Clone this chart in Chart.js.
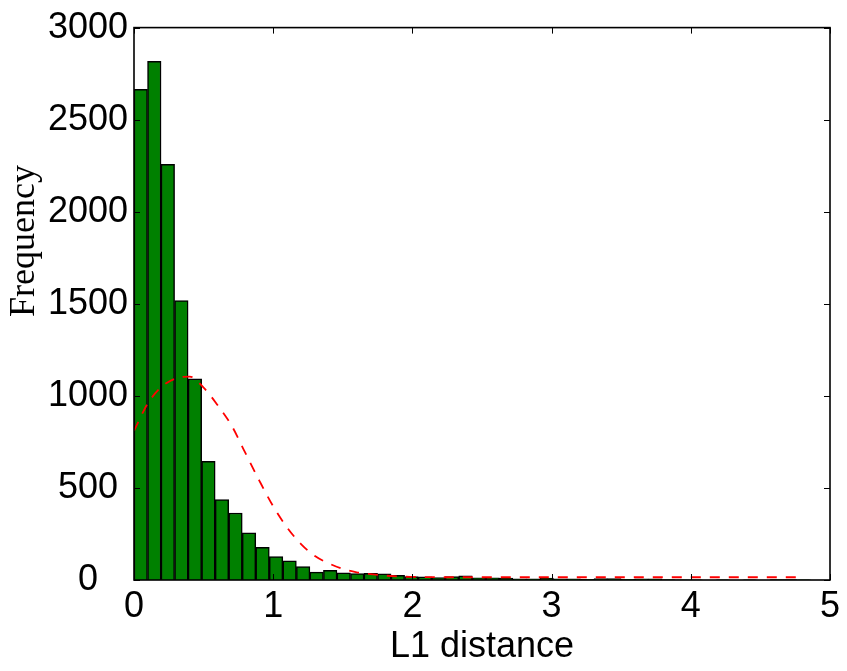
<!DOCTYPE html>
<html>
<head>
<meta charset="utf-8">
<script src="https://cdn.jsdelivr.net/npm/chart.js@4/dist/chart.umd.min.js"></script>
<style>
  html, body { margin: 0; padding: 0; background: #ffffff; }
  #wrap { width: 847px; height: 671px; }
</style>
</head>
<body>
<div id="wrap"><canvas id="c" width="847" height="671"></canvas></div>
<script>
// Histogram of L1 distances (bin width)
const binWidth = 0.0972;
const counts = [2665, 2817, 2258, 1518, 1093, 645, 437, 364, 256, 177,
                127, 104, 73, 43, 53, 39, 35, 36, 34, 25,
                19, 17, 13, 18, 22, 12, 12, 11, 7, 7,
                10, 7, 6, 3, 8, 8, 4, 7, 7, 2,
                1, 1, 0, 1, 0, 1, 0, 2, 2, 1];

// Fitted curve (red dashed)
const curveX = [0.0, 0.1, 0.2, 0.3, 0.4, 0.5, 0.6, 0.7, 0.8, 0.9,
                1.0, 1.1, 1.2, 1.3, 1.4, 1.5, 1.6, 1.7, 1.8, 1.9,
                2.0, 2.2, 2.5, 3.0, 3.5, 4.0, 4.5, 4.8];
const curveY = [810, 960, 1050, 1095, 1105, 1045, 950, 840, 690, 540,
                400, 285, 195, 130, 90, 60, 42, 32, 24, 19,
                17, 15, 15, 15, 15, 15, 15, 15];

const xTicks = [0, 1, 2, 3, 4, 5];
const yTicks = [0, 500, 1000, 1500, 2000, 2500, 3000];
const xTitle = 'L1 distance';
const yTitle = 'Frequency';

const barData = counts.map((v, i) => ({ x: (i + 0.5) * binWidth, y: v }));
const lineData = curveX.map((x, i) => ({ x: x, y: curveY[i] }));

const SANS = '"Liberation Sans", Arial, Helvetica, sans-serif';
const SERIF = '"Liberation Serif", "Times New Roman", serif';

const framePlugin = {
  id: 'frame',
  afterDatasetsDraw(chart) {
    const ctx = chart.ctx;
    const a = chart.chartArea;
    const xs = chart.scales.x, ys = chart.scales.y;
    ctx.save();
    ctx.strokeStyle = '#000000';
    ctx.lineWidth = 1;
    const tl = 6;
    ctx.beginPath();
    yTicks.forEach(v => {
      const p = Math.round(ys.getPixelForValue(v)) + 0.5;
      ctx.moveTo(a.left, p); ctx.lineTo(a.left + tl, p);
      ctx.moveTo(a.right, p); ctx.lineTo(a.right - tl, p);
    });
    xTicks.forEach(v => {
      const p = Math.round(xs.getPixelForValue(v)) + 0.5;
      ctx.moveTo(p, a.bottom); ctx.lineTo(p, a.bottom - tl);
      ctx.moveTo(p, a.top); ctx.lineTo(p, a.top + tl);
    });
    ctx.stroke();
    ctx.lineWidth = 1.6;
    ctx.strokeRect(a.left, a.top, a.right - a.left, a.bottom - a.top);
    ctx.restore();
  },
  afterDraw(chart) {
    const ctx = chart.ctx;
    ctx.save();
    ctx.fillStyle = '#000000';
    ctx.font = '36px ' + SERIF;
    ctx.textAlign = 'center';
    ctx.textBaseline = 'middle';
    ctx.translate(25, 241);
    ctx.rotate(-Math.PI / 2);
    ctx.fillText(yTitle, 0, 0);
    ctx.restore();
  }
};

new Chart(document.getElementById('c'), {
  type: 'bar',
  data: {
    datasets: [
      {
        type: 'line',
        data: lineData,
        borderColor: '#ff0000',
        borderWidth: 1.8,
        borderDash: [10, 9],
        pointRadius: 0,
        fill: false,
        cubicInterpolationMode: 'monotone',
        order: 0
      },
      {
        type: 'bar',
        data: barData,
        backgroundColor: '#008000',
        borderColor: '#000000',
        borderWidth: 1.5,
        barPercentage: 1.0,
        categoryPercentage: 1.0,
        order: 1
      }
    ]
  },
  plugins: [framePlugin],
  options: {
    responsive: false,
    animation: false,
    layout: { padding: { top: 22, right: 17, left: 0, bottom: 0 } },
    plugins: { legend: { display: false }, tooltip: { enabled: false } },
    scales: {
      x: {
        type: 'linear',
        min: 0, max: 5,
        offset: false,
        afterBuildTicks: s => { s.ticks = xTicks.map(v => ({ value: v })); },
        afterFit: s => { s.height = 91; },
        grid: { display: false, drawTicks: false },
        border: { display: false },
        ticks: { color: '#000000', font: { family: SANS, size: 36 }, padding: 5, maxRotation: 0, autoSkip: false,
                 callback: v => String(v) },
        title: { display: true, text: xTitle, color: '#000000', font: { family: SANS, size: 36 }, padding: { top: 0, bottom: 2 } }
      },
      y: {
        type: 'linear',
        min: 0, max: 3000,
        afterBuildTicks: s => { s.ticks = yTicks.map(v => ({ value: v })); },
        afterFit: s => { s.width = 134; },
        grid: { display: false, drawTicks: false },
        border: { display: false },
        ticks: { color: '#000000', font: { family: SANS, size: 36 }, padding: 6, autoSkip: false,
                 crossAlign: 'center', callback: v => String(v) },
        title: { display: false }
      }
    }
  }
});
</script>
</body>
</html>
